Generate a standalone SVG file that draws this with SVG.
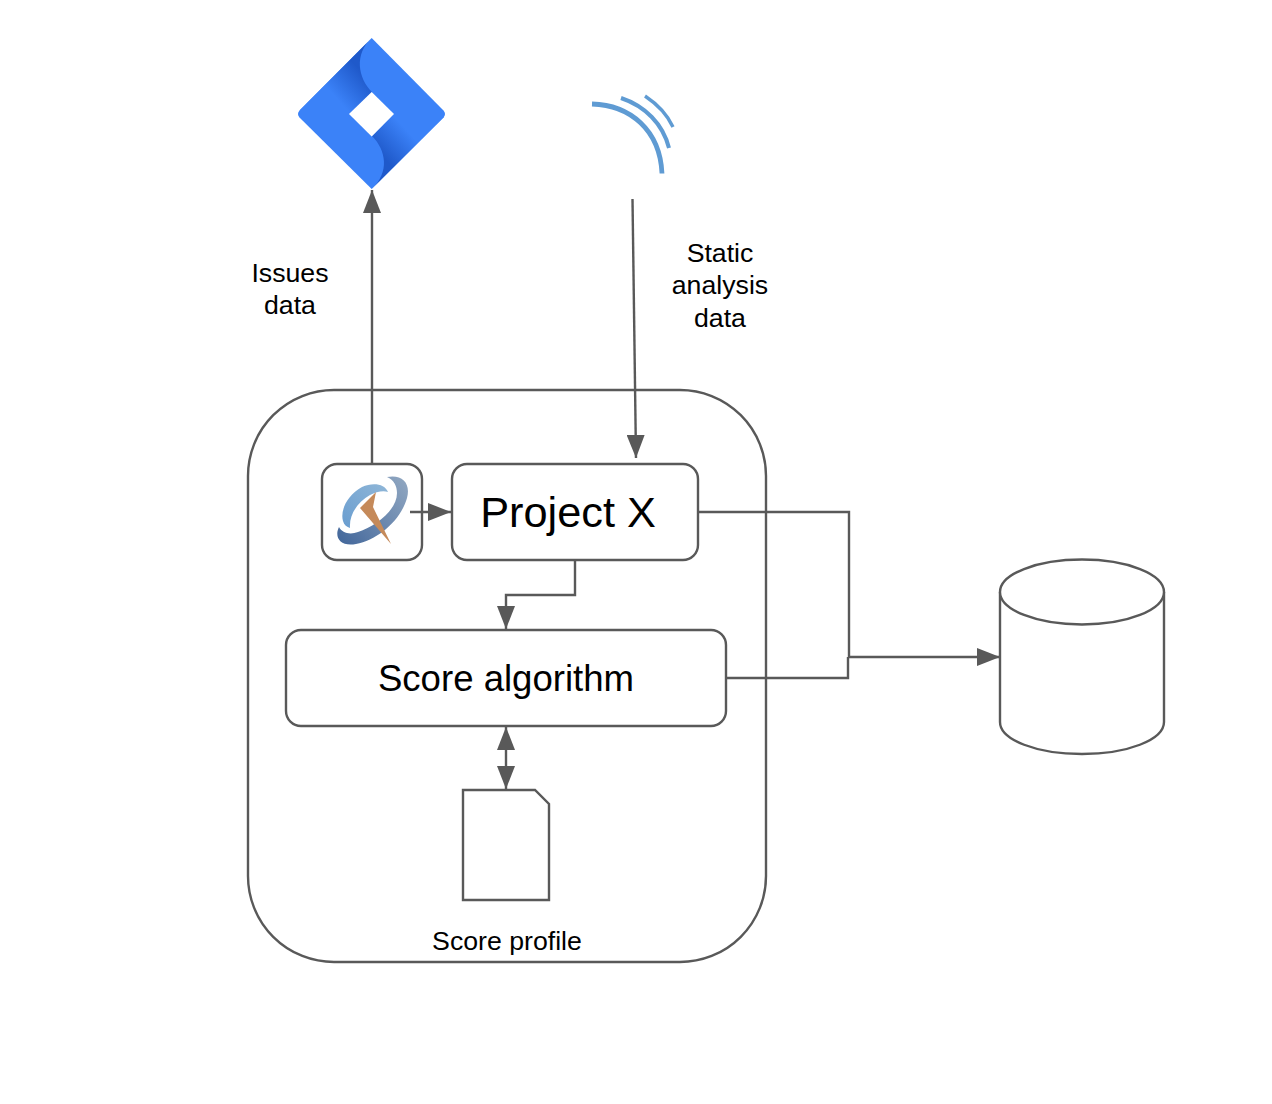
<svg xmlns="http://www.w3.org/2000/svg" width="1272" height="1104" viewBox="0 0 1272 1104">
<style>
.s{fill:#fff;stroke:#595959;stroke-width:2.400}
.c{fill:none;stroke:#595959;stroke-width:2.400}
text{font-family:"Liberation Sans",Arial,sans-serif;fill:#000;text-anchor:middle}
.l{font-size:26.700px}
.w{fill:none;stroke:#5f9bd3;stroke-linecap:butt}
</style>
<defs>
<marker id="a" markerUnits="userSpaceOnUse" markerWidth="24" markerHeight="18" refX="23" refY="9" orient="auto-start-reverse"><path d="M0 0L23 9L0 18Z" fill="#595959"/></marker>
<linearGradient id="j1" gradientUnits="userSpaceOnUse" x1="358" y1="68" x2="331" y2="92"><stop offset="0" stop-color="#1f59ca"/><stop offset="1" stop-color="#3b82f8"/></linearGradient>
<linearGradient id="j2" gradientUnits="userSpaceOnUse" x1="386" y1="160" x2="412" y2="136"><stop offset="0" stop-color="#1f59ca"/><stop offset="1" stop-color="#3b82f8"/></linearGradient>
<linearGradient id="q1" gradientUnits="userSpaceOnUse" x1="340" y1="540" x2="408" y2="485"><stop offset="0" stop-color="#45699c"/><stop offset="1" stop-color="#8ea5c0"/></linearGradient>
<linearGradient id="q2" gradientUnits="userSpaceOnUse" x1="345" y1="525" x2="390" y2="480"><stop offset="0" stop-color="#6c9fd0"/><stop offset="1" stop-color="#92b8d8"/></linearGradient>
</defs>
<g id="container"><rect class="s" x="248" y="390" width="518" height="572" rx="86"/></g>
<g id="jira">
<path d="M371.700 38L443.500 110.500Q446.500 114 443.500 117.500L371.700 189L299.500 117.500Q296.500 114 299.500 110.500Z" fill="#3b82f8"/>
<path d="M371.700 38L300 110L326 137L372 92C358 78 354 54 371.700 38Z" fill="url(#j1)"/>
<path d="M371.700 189L444 117L417 91L372 136C386 150 390 172 371.700 189Z" fill="url(#j2)"/>
<path d="M371.700 92L394 114L371.700 136.500L349 114Z" fill="#fff"/>
</g>
<g id="signal">
<path class="w" stroke-width="4.800" d="M592 104C630 105 660 130 662 173.500"/>
<path class="w" stroke-width="4" d="M621 98C645 106 663 124 669 148"/>
<path class="w" stroke-width="3.400" d="M645 96C657 104 667 114 673 127"/>
</g>
<g id="q-box">
<rect class="s" x="322" y="464" width="100" height="96" rx="15"/>
<path d="M387 477C402 474 411 483 407 498C401 520 378 540 356 544C340 547 334 537 339 527C342 533 350 535 358 532C376 526 397 510 397 493C397 486 394 480 387 477Z" fill="url(#q1)"/>
<path d="M388 492C385 484 373 482 362 487C347 495 340 511 343 521C344 525 347 527 350 528C349 514 358 502 370 495C376 492 383 490 388 492Z" fill="url(#q2)"/>
<path d="M376 492L360 508L391 544L373 507Z" fill="#c58a5a"/>
</g>
<g id="project-x"><rect class="s" x="452" y="464" width="246" height="96" rx="15"/><text x="568" y="527" font-size="43.300px">Project X</text></g>
<g id="score-algorithm"><rect class="s" x="286" y="630" width="440" height="96" rx="15"/><text x="506" y="691" font-size="36.600px">Score algorithm</text></g>
<g id="score-profile"><path class="s" d="M463 790H535L549 804V900H463Z"/><text class="l" x="507" y="950">Score profile</text></g>
<g id="database"><path class="s" d="M1000 592V722C1000 740 1037 754 1082 754S1164 740 1164 722V592"/><ellipse class="s" cx="1082" cy="592" rx="82" ry="32.500"/></g>
<g id="connectors">
<path class="c" marker-end="url(#a)" d="M372 464V190"/>
<path class="c" marker-end="url(#a)" d="M632.500 199L636 458"/>
<path class="c" marker-end="url(#a)" d="M410 512H451"/>
<path class="c" marker-end="url(#a)" d="M575 560V595H506V629"/>
<path class="c" marker-start="url(#a)" marker-end="url(#a)" d="M506 727V789"/>
<path class="c" d="M698 512H849V657"/>
<path class="c" d="M726 678H848V657"/>
<path class="c" marker-end="url(#a)" d="M848 657H1000"/>
</g>
<g id="labels">
<text class="l" x="290" y="282">Issues</text>
<text class="l" x="290" y="314">data</text>
<text class="l" x="720" y="262">Static</text>
<text class="l" x="720" y="294">analysis</text>
<text class="l" x="720" y="327">data</text>
</g>
</svg>
